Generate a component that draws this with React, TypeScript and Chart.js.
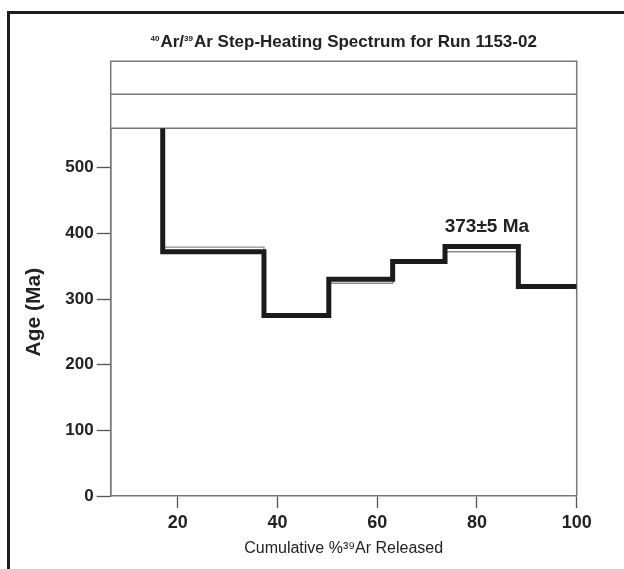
import React, { useEffect, useRef } from "react";
import { Chart, registerables } from "chart.js";

Chart.register(...registerables);

// ---- data ----
const STEP_X = [0, 17.0, 37.3, 50.3, 63.1, 73.6, 88.3, 100];
const AGE_MAIN = [700, 372, 275, 330, 357, 380, 319, 319];
const AGE_ALT = [700, 379, 275, 324, 356, 372, 319, 319];
const X_TICKS = [20, 40, 60, 80, 100];
const Y_TICKS = [0, 100, 200, 300, 400, 500];
const X_MIN = 6.57;
const X_MAX = 100;
const Y_MIN = 0;
const Y_MAX = 560;
const PANEL_LINES = [612, 662];
const PLATEAU_LABEL = "373±5 Ma";
const PLATEAU_AT = [82, 410];
// title pieces: [text, isSuperscript]
const TITLE_PARTS: [string, boolean][] = [
  ["40", true],
  ["Ar/", false],
  ["39", true],
  ["Ar Step-Heating Spectrum for Run 1153-02", false],
];
const X_TITLE = "Cumulative %³⁹Ar Released";
const Y_TITLE = "Age (Ma)";

const FONT = '"Liberation Sans", Arial, Helvetica, sans-serif';

const panelPlugin = {
  id: "panelPlugin",
  beforeDatasetsDraw(chart: any) {
    const { ctx, chartArea: ca, scales } = chart;
    const y = scales.y;
    const top = y.getPixelForValue(PANEL_LINES[1]);
    const mid = y.getPixelForValue(PANEL_LINES[0]);
    ctx.save();
    ctx.strokeStyle = "#777";
    ctx.lineWidth = 1.5;
    ctx.beginPath();
    ctx.moveTo(ca.left, ca.bottom);
    ctx.lineTo(ca.left, top);
    ctx.lineTo(ca.right, top);
    ctx.lineTo(ca.right, ca.bottom);
    ctx.moveTo(ca.left, mid);
    ctx.lineTo(ca.right, mid);
    ctx.moveTo(ca.left, ca.top);
    ctx.lineTo(ca.right, ca.top);
    ctx.stroke();
    ctx.restore();
  },
  afterDatasetsDraw(chart: any) {
    const { ctx, scales, chartArea: ca } = chart;
    ctx.save();
    ctx.font = `bold 19px ${FONT}`;
    ctx.fillStyle = "#222";
    ctx.textAlign = "center";
    ctx.textBaseline = "middle";
    ctx.fillText(
      PLATEAU_LABEL,
      scales.x.getPixelForValue(PLATEAU_AT[0]),
      scales.y.getPixelForValue(PLATEAU_AT[1])
    );

    // chart title with real superscripts
    const big = `bold 17px ${FONT}`;
    const small = `bold 8px ${FONT}`;
    let total = 0;
    const widths = TITLE_PARTS.map(([t, sup]) => {
      ctx.font = sup ? small : big;
      const w = ctx.measureText(t).width + (sup ? 1 : 0);
      total += w;
      return w;
    });
    let x = (ca.left + ca.right) / 2 - total / 2;
    const baseline = 47;
    ctx.textAlign = "left";
    ctx.textBaseline = "alphabetic";
    TITLE_PARTS.forEach(([t, sup], i) => {
      ctx.font = sup ? small : big;
      ctx.fillText(t, x, sup ? baseline - 6.5 : baseline);
      x += widths[i];
    });
    ctx.restore();
  },
};

export default function App() {
  const ref = useRef<HTMLCanvasElement | null>(null);

  useEffect(() => {
    if (!ref.current) return;
    Chart.defaults.font.family = FONT;
    const mk = (vals: number[]) => STEP_X.map((x, i) => ({ x, y: vals[i] }));
    const chart = new Chart(ref.current, {
      type: "line",
      data: {
        datasets: [
          {
            data: mk(AGE_MAIN),
            borderColor: "#1b1b1b",
            borderWidth: 5,
            stepped: "before",
            pointRadius: 0,
            fill: false,
            clip: 0,
            order: 0,
            borderJoinStyle: "miter",
            borderCapStyle: "butt",
          },
          {
            data: mk(AGE_ALT),
            borderColor: "#8a8a8a",
            borderWidth: 1.3,
            stepped: "before",
            pointRadius: 0,
            fill: false,
            clip: 0,
            order: 1,
          },
        ],
      },
      options: {
        responsive: false,
        animation: false,
        layout: { padding: { left: 0, right: 624 - 576.7, top: 128.3, bottom: 0 } },
        plugins: {
          legend: { display: false },
          tooltip: { enabled: false },
          title: { display: false },
        },
        scales: {
          x: {
            type: "linear",
            min: X_MIN,
            max: X_MAX,
            afterBuildTicks: (s: any) => {
              s.ticks = X_TICKS.map((v) => ({ value: v }));
            },
            afterFit: (s: any) => {
              s.height = 73;
            },
            ticks: {
              color: "#222",
              font: { size: 18, weight: "bold" },
              padding: 4,
              maxRotation: 0,
              autoSkip: false,
            },
            grid: {
              drawOnChartArea: false,
              tickLength: 12,
              tickColor: "#555",
              tickWidth: 1.3,
            },
            border: { color: "#777", width: 1.5 },
            title: {
              display: true,
              text: X_TITLE,
              color: "#222",
              font: { size: 16, weight: "normal" },
              padding: { top: 0, bottom: 11 },
            },
          },
          y: {
            type: "linear",
            min: Y_MIN,
            max: Y_MAX,
            afterBuildTicks: (s: any) => {
              s.ticks = Y_TICKS.map((v) => ({ value: v }));
            },
            afterFit: (s: any) => {
              s.width = 110.7;
            },
            ticks: {
              color: "#222",
              font: { size: 17, weight: "bold" },
              padding: 3,
            },
            grid: {
              drawOnChartArea: false,
              tickLength: 14,
              tickColor: "#555",
              tickWidth: 1.3,
            },
            border: { color: "#777", width: 1.5 },
            title: {
              display: true,
              text: Y_TITLE,
              color: "#222",
              font: { size: 21, weight: "bold" },
              padding: { top: 21.6, bottom: 0 },
            },
          },
        },
      } as any,
      plugins: [panelPlugin],
    });
    return () => chart.destroy();
  }, []);

  return (
    <div
      style={{
        position: "fixed",
        left: 0,
        top: 0,
        width: 624,
        height: 569,
        overflow: "hidden",
        background: "#fff",
      }}
    >
      <div
        style={{
          position: "absolute",
          left: 7,
          top: 11,
          width: 1000,
          height: 1000,
          borderLeft: "3px solid #1e1e1e",
          borderTop: "3px solid #1e1e1e",
        }}
      />
      <canvas
        ref={ref}
        width={624}
        height={569}
        style={{ position: "absolute", left: 0, top: 0, display: "block" }}
      />
    </div>
  );
}
